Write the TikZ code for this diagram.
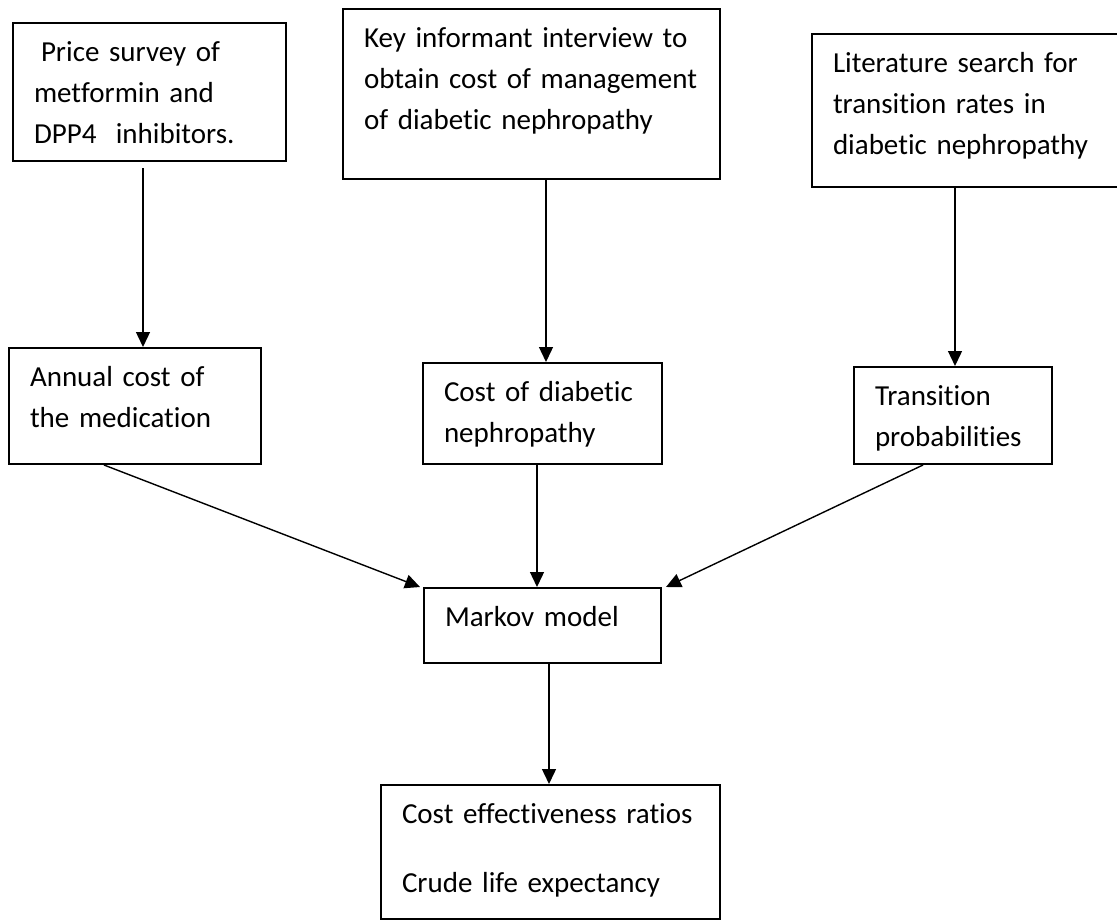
\documentclass[tikz,border=0pt]{standalone}
\usepackage{fontspec}
\setmainfont{Carlito}[Ligatures=NoCommon]
\usepackage{tikz}
\usetikzlibrary{arrows.meta}

\begin{document}
\begin{tikzpicture}[x=0.5pt,y=-0.5pt,>={Triangle[length=7.5pt,width=7pt]}]
\tikzstyle{block}=[rectangle,draw=black,line width=1pt,anchor=north west,align=left,inner xsep=10.5pt,inner ysep=0pt,text height=19.25pt,font=\fontsize{14.5pt}{20.5pt}\selectfont]
\tikzstyle{link}=[->,line width=0.7pt]
\useasboundingbox (0,0) rectangle (1117,920);
% data sources
\node[block,text width=115.5pt,text depth=49.75pt] (price) at (12,22) {\hspace*{3.5pt}Price survey of\\metformin and\\DPP4~~inhibitors.};
\node[block,text width=167.5pt,text depth=65.75pt] (kii) at (342,8) {Key informant interview to\\obtain cost of management\\of diabetic nephropathy};
\node[block,text width=134.5pt,text depth=57.25pt] (lit) at (811,33) {Literature search for\\transition rates in\\diabetic nephropathy};
% model inputs
\node[block,text width=105pt,text depth=38.75pt] (annual) at (8,347) {Annual cost of\\the medication};
\node[block,text width=98.5pt,text depth=31.25pt] (costdn) at (422,362) {Cost of diabetic\\nephropathy};
\node[block,text width=78pt,text depth=29.25pt] (trans) at (853,366) {Transition\\probabilities};
% model and outputs
\node[block,text width=97.5pt,text depth=18.25pt] (markov) at (423,587) {Markov model};
\node[block,text width=148.5pt,text depth=47.75pt] (result) at (380,784) {Cost effectiveness ratios\\[14pt]Crude life expectancy};
\draw[link] ([xshift=4pt]annual.north |- price.south) ++(0,6) -- ([xshift=4pt]annual.north);
\draw[link] ([xshift=1.75pt]costdn.north |- kii.south) -- ([xshift=1.75pt]costdn.north);
\draw[link] ([xshift=1pt]trans.north |- lit.south) -- ([xshift=1pt]trans.north);
\draw[link] ([xshift=-15.5pt]annual.south) -- ([xshift=-1.5pt]markov.north west);
\draw[link] ([xshift=-2.75pt]costdn.south) -- ([xshift=-2.75pt]markov.north);
\draw[link] ([xshift=-15pt]trans.south) -- ([xshift=2pt]markov.north east);
\draw[link] ([xshift=-0.75pt]result.north |- markov.south) -- ([xshift=-0.75pt]result.north);
\end{tikzpicture}
\end{document}
